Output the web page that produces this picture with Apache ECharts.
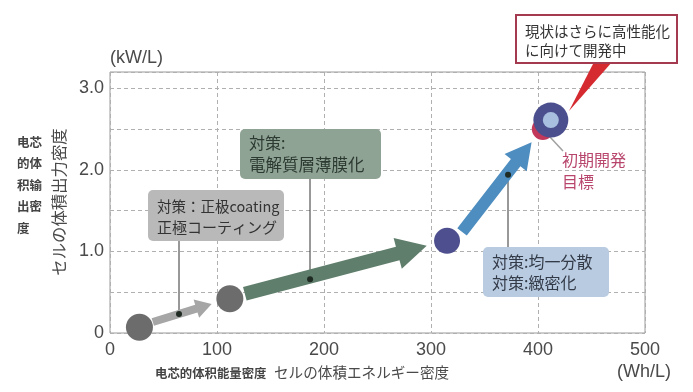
<!DOCTYPE html>
<html><head><meta charset="utf-8">
<script src="https://cdn.jsdelivr.net/npm/echarts@6/dist/echarts.min.js"></script>
<style>html,body{margin:0;padding:0;background:#fff}#c{width:693px;height:392px}</style>
</head><body><div id="c"></div>
<script>
// ---- data (x: Wh/L, y: kW/L) ----
var xTicks = [0, 100, 200, 300, 400, 500];
var yTicks = [0, 1.0, 2.0, 3.0];
var grayPoints = [[27.5, 0.07], [112, 0.42]];
var navyPoints = [[315, 1.13]];
var targetPoint = [[404.5, 2.50]];
var currentPoint = [[412, 2.61]];
var grayArrow = [[40, 0.135, 95, 0.356]];
var greenArrow = [[126, 0.48, 296, 1.07]];
var blueArrow = [[329, 1.24, 394, 2.34]];
var calloutDots = [[64.5, 0.233], [187, 0.66], [372, 1.94]];

var FONT = "'Liberation Sans','Noto Sans CJK JP',sans-serif";
var CJK = "'Noto Sans CJK JP','Liberation Sans',sans-serif";

function arrowSeries(data, color, sw, hw, hl) {
  return {
    type: 'custom', data: data, z: 3, silent: true,
    renderItem: function (params, api) {
      var a = api.coord([api.value(0), api.value(1)]);
      var b = api.coord([api.value(2), api.value(3)]);
      var dx = b[0] - a[0], dy = b[1] - a[1];
      var L = Math.sqrt(dx * dx + dy * dy);
      var ux = dx / L, uy = dy / L, nx = -uy, ny = ux;
      var hx = b[0] - ux * hl, hy = b[1] - uy * hl;
      var pts = [
        [a[0] + nx * sw / 2, a[1] + ny * sw / 2],
        [hx + nx * sw / 2, hy + ny * sw / 2],
        [hx + nx * hw / 2, hy + ny * hw / 2],
        [b[0], b[1]],
        [hx - nx * hw / 2, hy - ny * hw / 2],
        [hx - nx * sw / 2, hy - ny * sw / 2],
        [a[0] - nx * sw / 2, a[1] - ny * sw / 2]
      ];
      return { type: 'polygon', shape: { points: pts }, style: { fill: color } };
    }
  };
}

var chart = echarts.init(document.getElementById('c'));
var option = {
  backgroundColor: '#fff',
  animation: false,
  grid: { left: 110, right: 48, top: 72, bottom: 59, show: true, borderColor: '#9a9a9a', borderWidth: 1 },
  xAxis: {
    type: 'value', min: xTicks[0], max: xTicks[xTicks.length - 1], interval: 100,
    axisLine: { show: false }, axisTick: { show: false },
    axisLabel: { fontSize: 18, color: '#4a4a4a', fontFamily: FONT, margin: 8 },
    splitLine: { show: true, lineStyle: { color: '#b0b0b0', type: [4, 3] } }
  },
  yAxis: {
    type: 'value', min: 0, max: 3.2, interval: 0.5,
    axisLine: { show: false }, axisTick: { show: false },
    axisLabel: {
      fontSize: 18, color: '#4a4a4a', fontFamily: FONT, margin: 6,
      formatter: function (v) {
        for (var i = 0; i < yTicks.length; i++) {
          if (Math.abs(v - yTicks[i]) < 1e-6) return v === 0 ? '0' : v.toFixed(1);
        }
        return '';
      }
    },
    splitLine: { show: true, lineStyle: { color: '#b0b0b0', type: [4, 3] } }
  },
  series: [
    arrowSeries(grayArrow, '#a6a6a6', 8, 19, 16),
    arrowSeries(greenArrow, '#5f7e6b', 14, 32, 30),
    arrowSeries(blueArrow, '#4d8dbf', 12, 28, 26),
    { type: 'scatter', data: grayPoints, symbolSize: 27, z: 4, itemStyle: { color: '#6c6c6c', opacity: 1 } },
    { type: 'scatter', data: navyPoints, symbolSize: 26, z: 4, itemStyle: { color: '#4e4f8e', opacity: 1 } },
    { type: 'scatter', data: targetPoint, symbolSize: 22, z: 4, itemStyle: { color: '#c2385b', opacity: 1 } },
    { type: 'scatter', data: currentPoint, symbolSize: 35, z: 5, itemStyle: { color: '#4b4f8e', opacity: 1 } },
    { type: 'scatter', data: currentPoint, symbolSize: 16, z: 6, itemStyle: { color: '#a8bfdf', opacity: 1 } },
    { type: 'scatter', data: calloutDots, symbolSize: 6, z: 7, itemStyle: { color: '#1e2a22', opacity: 1 } }
  ],
  graphic: [
    // connector lines
    { type: 'line', z: 2, shape: { x1: 179, y1: 241, x2: 179, y2: 314 }, style: { stroke: '#333', lineWidth: 1 } },
    { type: 'line', z: 2, shape: { x1: 310, y1: 179, x2: 310, y2: 279 }, style: { stroke: '#333', lineWidth: 1 } },
    { type: 'line', z: 2, shape: { x1: 508, y1: 175, x2: 508, y2: 247 }, style: { stroke: '#333', lineWidth: 1 } },
    { type: 'line', z: 2, shape: { x1: 550, y1: 137, x2: 563, y2: 151 }, style: { stroke: '#a0a0a0', lineWidth: 1.5 } },
    // gray box
    { type: 'rect', z: 10, shape: { x: 148, y: 190, width: 136, height: 51, r: 5 }, style: { fill: '#b9b9b9' } },
    { type: 'text', z: 11, style: { x: 157, y: 206, text: '対策：正极coating', font: '14.5px ' + CJK, fill: '#333', verticalAlign: 'middle' } },
    { type: 'text', z: 11, style: { x: 157, y: 227, text: '正極コーティング', font: '15px ' + CJK, fill: '#333', verticalAlign: 'middle' } },
    // green box
    { type: 'rect', z: 10, shape: { x: 240, y: 129, width: 141, height: 50, r: 5 }, style: { fill: '#8fa395' } },
    { type: 'text', z: 11, style: { x: 249, y: 143, text: '対策:', font: '16px ' + CJK, fill: '#2c3a31', verticalAlign: 'middle' } },
    { type: 'text', z: 11, style: { x: 249, y: 165, text: '電解質層薄膜化', font: '16.5px ' + CJK, fill: '#2c3a31', verticalAlign: 'middle' } },
    // blue box
    { type: 'rect', z: 10, shape: { x: 483, y: 247, width: 126, height: 50, r: 5 }, style: { fill: '#b8cbe0' } },
    { type: 'text', z: 11, style: { x: 492, y: 262, text: '対策:均一分散', font: '16px ' + CJK, fill: '#333a48', verticalAlign: 'middle' } },
    { type: 'text', z: 11, style: { x: 492, y: 283, text: '対策:緻密化', font: '16px ' + CJK, fill: '#333a48', verticalAlign: 'middle' } },
    // red callout
    { type: 'polygon', z: 10, shape: { points: [[594, 62], [612, 62], [569, 111]] }, style: { fill: '#d42a30' } },
    { type: 'rect', z: 11, shape: { x: 516, y: 15, width: 161, height: 48 }, style: { fill: '#fff', stroke: '#a33a50', lineWidth: 2 } },
    { type: 'text', z: 12, style: { x: 525, y: 31, text: '現状はさらに高性能化', font: '14.5px ' + CJK, fill: '#333', verticalAlign: 'middle' } },
    { type: 'text', z: 12, style: { x: 525, y: 50, text: 'に向けて開発中', font: '14.5px ' + CJK, fill: '#333', verticalAlign: 'middle' } },
    // target label
    { type: 'text', z: 11, style: { x: 562, y: 160, text: '初期開発', font: '16px ' + CJK, fill: '#b8466c', verticalAlign: 'middle' } },
    { type: 'text', z: 11, style: { x: 562, y: 182, text: '目標', font: '16px ' + CJK, fill: '#b8466c', verticalAlign: 'middle' } },
    // axis names
    { type: 'text', style: { x: 110, y: 58, text: '(kW/L)', font: '18px ' + FONT, fill: '#4a4a4a', verticalAlign: 'middle' } },
    { type: 'text', style: { x: 617, y: 372, text: '(Wh/L)', font: '18px ' + FONT, fill: '#4a4a4a', verticalAlign: 'middle' } },
    { type: 'text', style: { x: 155, y: 373, text: '电芯的体积能量密度', font: 'bold 12.4px ' + CJK, fill: '#444', verticalAlign: 'middle' } },
    { type: 'text', style: { x: 274, y: 372, text: 'セルの体積エネルギー密度', font: '14.6px ' + CJK, fill: '#4a4a4a', verticalAlign: 'middle' } },
    { type: 'text', rotation: Math.PI / 2, x: 59, y: 202, style: { x: 0, y: 0, text: 'セルの体積出力密度', font: '16.4px ' + CJK, fill: '#4a4a4a', align: 'center', verticalAlign: 'middle' } },
    { type: 'text', style: { x: 17, y: 131, text: '电芯\n的体\n积输\n出密\n度', font: 'bold 12.5px ' + CJK, fill: '#444', lineHeight: 21.5, verticalAlign: 'top' } }
  ]
};
chart.setOption(option);
</script></body></html>
